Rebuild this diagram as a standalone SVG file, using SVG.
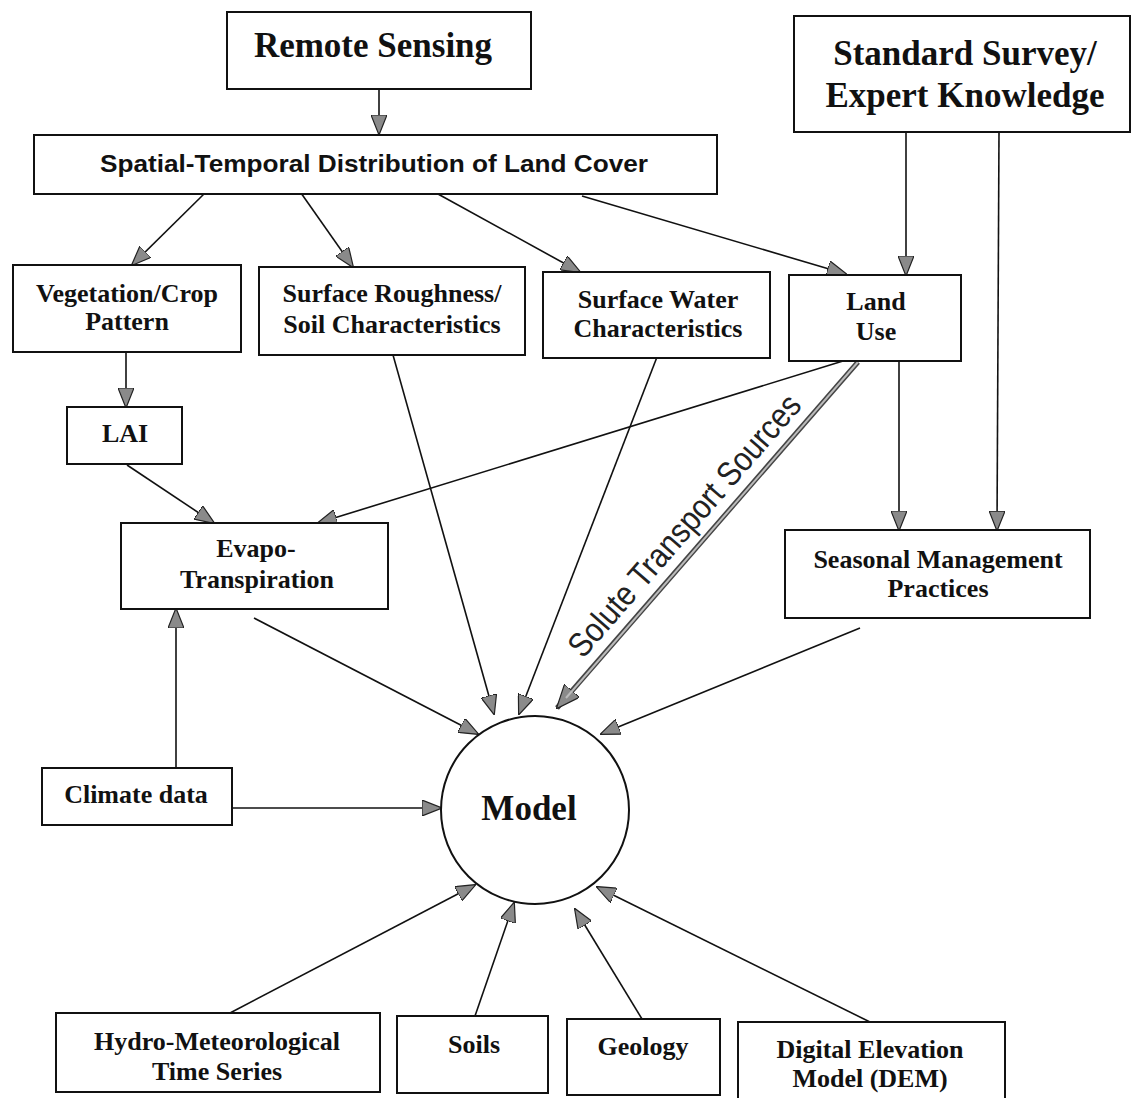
<svg xmlns="http://www.w3.org/2000/svg" width="1136" height="1098" viewBox="0 0 1136 1098">
<style>
.box{fill:#fff;stroke:#111;stroke-width:2}
.t{font-family:"Liberation Serif","Times New Roman",serif;font-weight:bold;font-size:26px;fill:#111;text-anchor:middle}
.big{font-size:35px}
.sans{font-family:"Liberation Sans",Arial,sans-serif;font-weight:bold;font-size:24px;fill:#111;text-anchor:middle}
.c{stroke:#111;stroke-width:1.6;fill:none;marker-end:url(#ah)}
</style>
<defs>
<marker id="ah" viewBox="0 0 20 16" refX="19" refY="8" markerWidth="20" markerHeight="16" markerUnits="userSpaceOnUse" orient="auto">
<path d="M0,0 L20,8 L0,16 z" fill="#8a8a8a" stroke="#222" stroke-width="1.2"/>
</marker>
<marker id="ahb" viewBox="0 0 24 20" refX="23" refY="10" markerWidth="24" markerHeight="20" markerUnits="userSpaceOnUse" orient="auto">
<path d="M0,0 L24,10 L0,20 z" fill="#8a8a8a" stroke="#222" stroke-width="1.2"/>
</marker>
</defs>
<rect width="1136" height="1098" fill="#fff"/>

<g id="connectors">
<line class="c" x1="379" y1="89" x2="379" y2="134"/>
<line class="c" x1="205" y1="193" x2="132" y2="265"/>
<line class="c" x1="301" y1="193" x2="353" y2="267"/>
<line class="c" x1="438" y1="194" x2="580" y2="272"/>
<line class="c" x1="582" y1="196" x2="846" y2="274"/>
<line class="c" x1="906" y1="132" x2="906" y2="275"/>
<line class="c" x1="999" y1="132" x2="997" y2="530"/>
<line class="c" x1="126" y1="352" x2="126" y2="407"/>
<line class="c" x1="127" y1="465" x2="214" y2="523"/>
<line class="c" x1="843" y1="361" x2="318" y2="523"/>
<line class="c" x1="899" y1="361" x2="899" y2="530"/>
<line class="c" x1="176" y1="768" x2="176" y2="609"/>
<line class="c" x1="232" y1="808" x2="441" y2="808"/>
<line class="c" x1="254" y1="618" x2="478" y2="734"/>
<line class="c" x1="393" y1="355" x2="494" y2="714"/>
<line class="c" x1="657" y1="357" x2="519" y2="714"/>
<line class="c" x1="860" y1="628" x2="601" y2="734"/>
<line class="c" x1="230" y1="1013" x2="475" y2="885"/>
<line class="c" x1="475" y1="1016" x2="514" y2="903"/>
<line class="c" x1="642" y1="1019" x2="575" y2="909"/>
<line class="c" x1="870" y1="1022" x2="597" y2="887"/>
<g id="solute">
<line x1="858" y1="362" x2="557" y2="708" stroke="#444" stroke-width="5" marker-end="url(#ahb)"/>
<line x1="858" y1="362" x2="566" y2="698" stroke="#bbb" stroke-width="2"/>
<text x="693" y="533" transform="rotate(-49 693 533)" font-family="'Liberation Sans',Arial,sans-serif" font-size="34" fill="#222" text-anchor="middle" textLength="335" lengthAdjust="spacingAndGlyphs">Solute Transport Sources</text>
</g>
</g>

<g id="remote-sensing"><rect class="box" x="227" y="12" width="304" height="77"/><text class="t big" x="373" y="57">Remote Sensing</text></g>
<g id="spatial"><rect class="box" x="34" y="135" width="683" height="59"/><text class="sans" x="374" y="172" textLength="548" lengthAdjust="spacingAndGlyphs">Spatial-Temporal Distribution of Land Cover</text></g>
<g id="standard-survey"><rect class="box" x="794" y="16" width="336" height="116"/><text class="t big" x="965" y="65">Standard Survey/</text><text class="t big" x="965" y="107">Expert Knowledge</text></g>
<g id="vegetation"><rect class="box" x="13" y="265" width="228" height="87"/><text class="t" x="127" y="302">Vegetation/Crop</text><text class="t" x="127" y="330">Pattern</text></g>
<g id="surface-roughness"><rect class="box" x="259" y="267" width="266" height="88"/><text class="t" x="392" y="302">Surface Roughness/</text><text class="t" x="392" y="333">Soil Characteristics</text></g>
<g id="surface-water"><rect class="box" x="543" y="272" width="227" height="86"/><text class="t" x="658" y="308">Surface Water</text><text class="t" x="658" y="337">Characteristics</text></g>
<g id="land-use"><rect class="box" x="789" y="275" width="172" height="86"/><text class="t" x="876" y="310">Land</text><text class="t" x="876" y="340">Use</text></g>
<g id="lai"><rect class="box" x="67" y="407" width="115" height="57"/><text class="t" x="125" y="442">LAI</text></g>
<g id="evapo"><rect class="box" x="121" y="523" width="267" height="86"/><text class="t" x="256" y="557">Evapo-</text><text class="t" x="257" y="588">Transpiration</text></g>
<g id="seasonal"><rect class="box" x="785" y="530" width="305" height="88"/><text class="t" x="938" y="568">Seasonal Management</text><text class="t" x="938" y="597">Practices</text></g>
<g id="climate"><rect class="box" x="42" y="768" width="190" height="57"/><text class="t" x="136" y="803">Climate data</text></g>
<g id="model"><circle cx="535" cy="810" r="94" fill="#fff" stroke="#111" stroke-width="2"/><text class="t big" x="529" y="820">Model</text></g>
<g id="hydro"><rect class="box" x="56" y="1013" width="324" height="79"/><text class="t" x="217" y="1050">Hydro-Meteorological</text><text class="t" x="217" y="1080">Time Series</text></g>
<g id="soils"><rect class="box" x="397" y="1016" width="151" height="77"/><text class="t" x="474" y="1053">Soils</text></g>
<g id="geology"><rect class="box" x="567" y="1019" width="153" height="76"/><text class="t" x="643" y="1055">Geology</text></g>
<g id="dem"><rect class="box" x="738" y="1022" width="267" height="90"/><text class="t" x="870" y="1058">Digital Elevation</text><text class="t" x="870" y="1087">Model (DEM)</text></g>
</svg>
